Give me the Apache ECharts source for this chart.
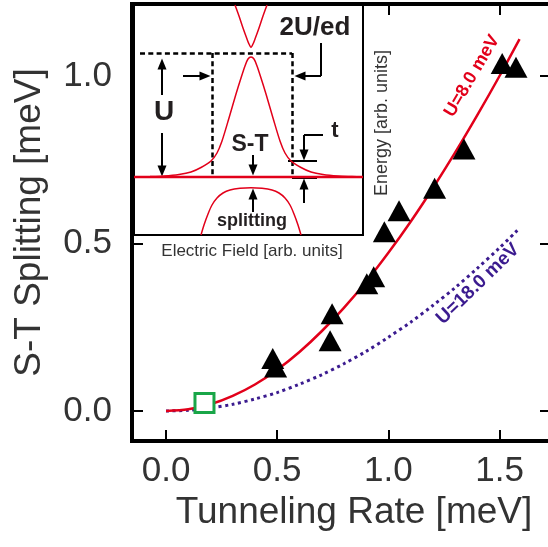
<!DOCTYPE html>
<html>
<head>
<meta charset="utf-8">
<script src="https://cdn.jsdelivr.net/npm/echarts@6/dist/echarts.min.js"></script>
<style>html,body{margin:0;padding:0;background:#fff;overflow:hidden;}#c{width:548px;height:547px;}</style>
</head>
<body>
<div id="c"></div>
<script>
// ---- data ----
const xTickValues = [0, 0.5, 1.0, 1.5];
const yTickValues = [0, 0.5, 1.0];

// model curve U = 8.0 meV
const rateU8  = [0, 0.1, 0.2, 0.3, 0.4, 0.5, 0.6, 0.7, 0.8, 0.9, 1.0, 1.1, 1.2, 1.3, 1.4, 1.5, 1.59];
const splitU8 = [0, 0.005, 0.020, 0.045, 0.079, 0.123, 0.176, 0.238, 0.308, 0.386, 0.472, 0.565, 0.665, 0.771, 0.883, 1.000, 1.110];
// model curve U = 18.0 meV
const rateU18  = [0, 0.1, 0.2, 0.3, 0.4, 0.5, 0.6, 0.7, 0.8, 0.9, 1.0, 1.1, 1.2, 1.3, 1.4, 1.5, 1.58];
const splitU18 = [0, 0.002, 0.009, 0.020, 0.036, 0.055, 0.080, 0.108, 0.141, 0.178, 0.220, 0.265, 0.315, 0.368, 0.426, 0.487, 0.539];
// measured points (triangles)
const measRate  = [0.480, 0.493, 0.738, 0.747, 0.903, 0.934, 0.982, 1.048, 1.208, 1.340, 1.512, 1.574];
const measSplit = [0.157, 0.131, 0.210, 0.290, 0.380, 0.401, 0.535, 0.598, 0.665, 0.782, 1.037, 1.026];
// reference point (open square)
const refRate  = [0.173];
const refSplit = [0.024];

// inset (field / energy in arbitrary units, y downwards)
const insetFlatField  = [134, 363];
const insetFlatEnergy = [177, 177];
const insetPeakField  = [134,150,164,179,191,201,211,217,222,229,236,241,245,248,251,254,257,261,266,273,280,285,291,301,311,323,338,352,363];
const insetPeakEnergy = [177,176.6,176,174.5,172,167.5,161,153,141,118,94,78,66,59,57,59,66,78,94,118,141,153,161,167.5,172,174.5,176,176.6,177];
const insetTopField   = [235,239,243,247,249,251,253,255,259,263,267];
const insetTopEnergy  = [5,16,28,39,44,47.5,44,39,28,16,5];
const insetLowField   = [201,204,208,212,217,223,230,240,251,262,272,279,285,290,294,298,301];
const insetLowEnergy  = [235,225,214,205,198,193,190,188.3,187.7,188.3,190,193,198,205,214,225,235];

const RED = '#e2001a', PURPLE = '#3b1b8f', GREEN = '#19a648', INK = '#231f20', GREY = '#333';
const FONT = '"Liberation Sans", Arial, Helvetica, sans-serif';

const zip = (a, b) => a.map((v, i) => [v, b[i]]);

function seg(p1, p2, arrow) {
  return [{coord: p1, symbol: 'none'}, {coord: p2, symbol: arrow ? 'triangle' : 'none', symbolSize: [9, 11]}];
}

const chart = echarts.init(document.getElementById('c'), null, {renderer: 'canvas'});
const tickStyle = {color: '#000', width: 2};
const frame = {show: true, onZero: false, lineStyle: {color: '#000', width: 4, cap: 'square'}};
const noLine = {show: false, onZero: false};
const option = {
  backgroundColor: '#fff',
  animation: false,
  textStyle: {fontFamily: FONT},
  grid: [
    {left: 132, top: 4, right: 0, height: 437, show: false, z: 0, containLabel: false},
    {left: 134, top: 5, width: 229, height: 230, show: true, borderColor: '#000', borderWidth: 2,
     backgroundColor: '#fff', z: 5, containLabel: false}
  ],
  xAxis: [
    {gridIndex: 0, type: 'value', min: -0.153, max: 1.718, position: 'bottom', z: 0,
     axisLine: frame, splitLine: {show: false},
     axisTick: {inside: true, length: 11, lineStyle: tickStyle, customValues: xTickValues},
     axisLabel: {customValues: xTickValues, formatter: v => v.toFixed(1), fontSize: 35, color: GREY, margin: 13, fontFamily: FONT},
     name: 'Tunneling Rate [meV]', nameLocation: 'middle', nameGap: 49,
     nameTextStyle: {fontSize: 37, color: GREY, fontFamily: FONT, padding: [0, 0, 0, 28]}},
    {gridIndex: 0, type: 'value', min: -0.153, max: 1.718, position: 'top', z: 0,
     axisLine: frame, splitLine: {show: false},
     axisTick: {inside: true, length: 11, lineStyle: tickStyle, customValues: xTickValues},
     axisLabel: {show: false}},
    {gridIndex: 1, type: 'value', min: 134, max: 363, show: false, axisLine: noLine}
  ],
  yAxis: [
    {gridIndex: 0, type: 'value', min: -0.0896, max: 1.2149, position: 'left', z: 0,
     axisLine: frame, splitLine: {show: false},
     axisTick: {inside: true, length: 11, lineStyle: tickStyle, customValues: yTickValues},
     axisLabel: {customValues: yTickValues, formatter: v => v.toFixed(1), fontSize: 35, color: GREY, margin: 20, fontFamily: FONT},
     name: 'S-T Splitting [meV]', nameLocation: 'middle', nameGap: 84, nameRotate: 90,
     nameTextStyle: {fontSize: 37, color: GREY, fontFamily: FONT}},
    {gridIndex: 0, type: 'value', min: -0.0896, max: 1.2149, position: 'right', z: 0,
     axisLine: noLine, splitLine: {show: false},
     axisTick: {inside: true, length: 8, lineStyle: tickStyle, customValues: yTickValues},
     axisLabel: {show: false}},
    {gridIndex: 1, type: 'value', min: 5, max: 235, inverse: true, show: false, axisLine: noLine}
  ],
  series: [
    {type: 'line', name: 'U=18.0 meV', xAxisIndex: 0, yAxisIndex: 0, data: zip(rateU18, splitU18),
     smooth: 0.3, showSymbol: false, symbol: 'none', z: 2, silent: true,
     lineStyle: {color: PURPLE, width: 3, type: [3, 3.6]}},
    {type: 'line', name: 'U=8.0 meV', xAxisIndex: 0, yAxisIndex: 0, data: zip(rateU8, splitU8),
     smooth: 0.3, showSymbol: false, symbol: 'none', z: 3, silent: true,
     lineStyle: {color: RED, width: 2.5}},
    {type: 'scatter', name: 'measured', xAxisIndex: 0, yAxisIndex: 0, data: zip(measRate, measSplit),
     symbol: 'triangle', symbolSize: [23, 21], itemStyle: {color: '#000', opacity: 1}, z: 4, silent: true},
    {type: 'scatter', name: 'reference', xAxisIndex: 0, yAxisIndex: 0, data: zip(refRate, refSplit),
     symbol: 'rect', symbolSize: 19, itemStyle: {color: '#fff', borderColor: GREEN, borderWidth: 3, opacity: 1}, z: 4, silent: true},
    // inset
    {type: 'line', xAxisIndex: 2, yAxisIndex: 2, data: zip(insetFlatField, insetFlatEnergy),
     showSymbol: false, symbol: 'none', z: 6, silent: true, lineStyle: {color: RED, width: 2.5}},
    {type: 'line', xAxisIndex: 2, yAxisIndex: 2, data: zip(insetPeakField, insetPeakEnergy),
     smooth: 0.3, showSymbol: false, symbol: 'none', z: 6, silent: true, lineStyle: {color: RED, width: 1.5}},
    {type: 'line', xAxisIndex: 2, yAxisIndex: 2, data: zip(insetTopField, insetTopEnergy),
     smooth: 0.3, showSymbol: false, symbol: 'none', z: 6, silent: true, lineStyle: {color: RED, width: 1.5}},
    {type: 'line', xAxisIndex: 2, yAxisIndex: 2, data: zip(insetLowField, insetLowEnergy),
     smooth: 0.3, showSymbol: false, symbol: 'none', z: 6, silent: true, lineStyle: {color: RED, width: 1.5}},
    // inset annotation: dashed lines
    {type: 'line', xAxisIndex: 2, yAxisIndex: 2, data: [[134, 5]], showSymbol: false, symbol: 'none', z: 7, silent: true,
     lineStyle: {opacity: 0},
     markLine: {silent: true, animation: false, label: {show: false}, symbol: 'none',
       lineStyle: {color: '#000', width: 2.5, type: [5, 3.3]}, emphasis: {disabled: true},
       data: [seg([140, 53], [292, 53]), seg([212, 53], [212, 178]), seg([292, 53], [292, 178])]}},
    // inset annotation: arrows & brackets
    {type: 'line', xAxisIndex: 2, yAxisIndex: 2, data: [[134, 5]], showSymbol: false, symbol: 'none', z: 8, silent: true,
     lineStyle: {opacity: 0},
     markLine: {silent: true, animation: false, label: {show: false}, symbol: 'none',
       lineStyle: {color: '#000', width: 2, type: 'solid'}, itemStyle: {color: '#000'}, emphasis: {disabled: true},
       data: [
         seg([321, 43], [321, 76], false), seg([321, 76], [300, 76], true),
         seg([183, 76], [205, 76], true),
         seg([162, 95], [162, 64], true), seg([162, 133], [162, 171], true),
         seg([253, 155], [253, 170], true), seg([253, 212], [253, 194], true),
         seg([323, 135], [304, 135], false), seg([304, 135], [304, 155], true),
         seg([304, 203], [304, 184], true),
         seg([288, 161], [317, 161], false), seg([292, 178], [317, 178], false)
       ]}}
  ],
  graphic: [
    {type: 'text', x: 315, y: 28, z: 100, style: {text: '2U/ed', font: 'bold 26px ' + FONT, fill: INK, align: 'center', verticalAlign: 'middle'}},
    {type: 'text', x: 164, y: 112, z: 100, style: {text: 'U', font: 'bold 28px ' + FONT, fill: INK, align: 'center', verticalAlign: 'middle'}},
    {type: 'text', x: 250, y: 145, z: 100, style: {text: 'S-T', font: 'bold 23px ' + FONT, fill: INK, align: 'center', verticalAlign: 'middle'}},
    {type: 'text', x: 335, y: 131, z: 100, style: {text: 't', font: 'bold 22px ' + FONT, fill: INK, align: 'center', verticalAlign: 'middle'}},
    {type: 'text', x: 252, y: 221, z: 100, style: {text: 'splitting', font: 'bold 18px ' + FONT, fill: INK, align: 'center', verticalAlign: 'middle'}},
    {type: 'text', x: 252, y: 251, z: 100, style: {text: 'Electric Field [arb. units]', font: '17px ' + FONT, fill: GREY, align: 'center', verticalAlign: 'middle'}},
    {type: 'text', x: 382, y: 123, rotation: Math.PI / 2, z: 100, style: {text: 'Energy [arb. units]', font: '18px ' + FONT, fill: GREY, align: 'center', verticalAlign: 'middle'}},
    {type: 'text', x: 472, y: 76, rotation: 1.038, z: 100, style: {text: 'U=8.0 meV', font: 'bold 18px ' + FONT, fill: RED, align: 'center', verticalAlign: 'middle'}},
    {type: 'text', x: 478, y: 284, rotation: 0.768, z: 100, style: {text: 'U=18.0 meV', font: 'bold 19px ' + FONT, fill: PURPLE, align: 'center', verticalAlign: 'middle'}}
  ]
};
chart.setOption(option);
</script>
</body>
</html>
